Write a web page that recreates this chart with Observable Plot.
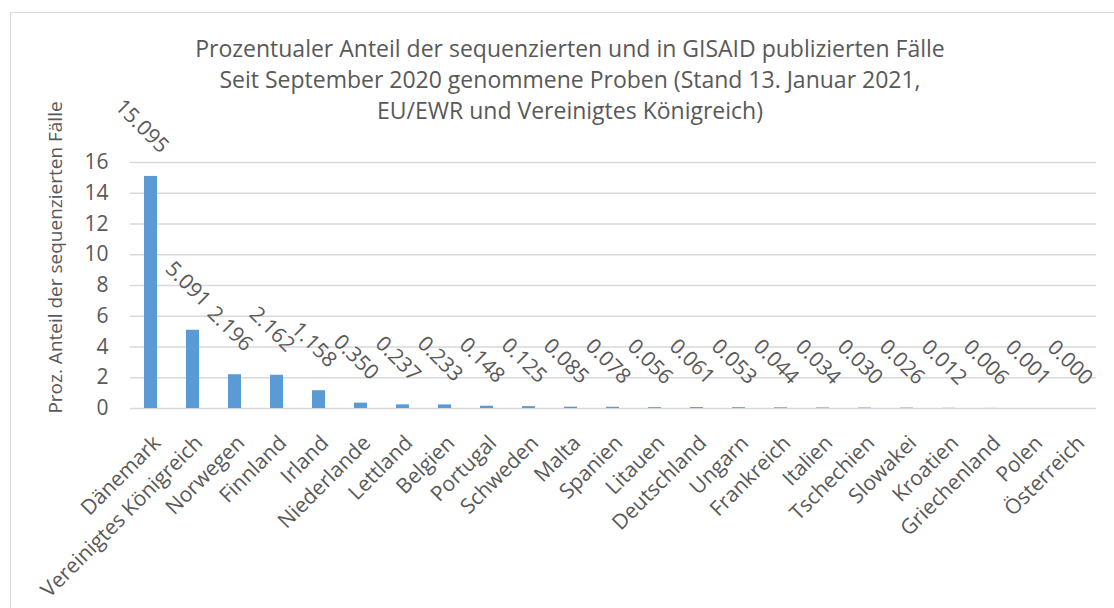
<!DOCTYPE html>
<html>
<head>
<meta charset="utf-8">
<script src="https://cdn.jsdelivr.net/npm/d3@7"></script>
<script src="https://cdn.jsdelivr.net/npm/@observablehq/plot@0.6"></script>
<style>
  html, body { margin: 0; padding: 0; background: #fff; }
  #wrap { position: relative; width: 1114px; height: 608px; overflow: hidden; font-family: "Open Sans", sans-serif; }
  #frame { position: absolute; left: 10px; top: 12px; width: 1200px; height: 700px; border-top: 1px solid #d9d9d9; border-left: 1px solid #d9d9d9; }
  #title { position: absolute; left: 0; top: 33px; width: 1140px; text-align: center; font-size: 23px; line-height: 31px; color: #595959; }
  #chart { position: absolute; left: 0; top: 0; }
</style>
</head>
<body>
<div id="wrap">
  <div id="frame"></div>
  <div id="chart"></div>
  <div id="title">Prozentualer Anteil der sequenzierten und in GISAID publizierten Fälle<br>Seit September 2020 genommene Proben (Stand 13. Januar 2021,<br>EU/EWR und Vereinigtes Königreich)</div>
</div>
<script>
const countries = ["Dänemark", "Vereinigtes Königreich", "Norwegen", "Finnland", "Irland", "Niederlande", "Lettland", "Belgien", "Portugal", "Schweden", "Malta", "Spanien", "Litauen", "Deutschland", "Ungarn", "Frankreich", "Italien", "Tschechien", "Slowakei", "Kroatien", "Griechenland", "Polen", "Österreich"];
const values = [15.095, 5.091, 2.196, 2.162, 1.158, 0.350, 0.237, 0.233, 0.148, 0.125, 0.085, 0.078, 0.056, 0.061, 0.053, 0.044, 0.034, 0.030, 0.026, 0.012, 0.006, 0.001, 0.000];
const yTicks = [0, 2, 4, 6, 8, 10, 12, 14, 16];
const yLabel = "Proz. Anteil der sequenzierten Fälle";

const data = countries.map((c, i) => ({country: c, value: values[i]}));
const fmt = d3.format(".3f");

const chart = Plot.plot({
  width: 1114,
  height: 608,
  marginLeft: 130,
  marginRight: 18,
  marginTop: 162,
  marginBottom: 200,
  style: {fontFamily: "Open Sans", fontSize: "21px", color: "#595959", background: "transparent"},
  x: {domain: countries, paddingInner: 0.69, paddingOuter: 0.345, axis: null},
  y: {domain: [0, 16], axis: null},
  marks: [
    Plot.gridY(yTicks, {stroke: "#d9d9d9", strokeOpacity: 1, strokeWidth: 1.5}),
    Plot.barY(data, {x: "country", y: "value", fill: "#5b9bd5"}),
    Plot.axisY(yTicks, {tickSize: 0, tickPadding: 22, label: null, fontSize: 21, fill: "#595959"}),
    Plot.text(data, {x: "country", y: "value", text: d => fmt(d.value), rotate: 45, textAnchor: "end", lineAnchor: "middle", dx: 14, dy: -27, fontSize: 21, fill: "#595959"}),
    Plot.text(data, {x: "country", frameAnchor: "bottom", text: "country", rotate: -45, textAnchor: "end", lineAnchor: "middle", dx: 6, dy: 31, fontSize: 21, fill: "#595959"}),
    Plot.text([yLabel], {text: d => d, frameAnchor: "left", rotate: -90, textAnchor: "middle", dx: -75, dy: -28, fontSize: 19, fill: "#595959"})
  ]
});
document.getElementById("chart").appendChild(chart);
</script>
</body>
</html>
